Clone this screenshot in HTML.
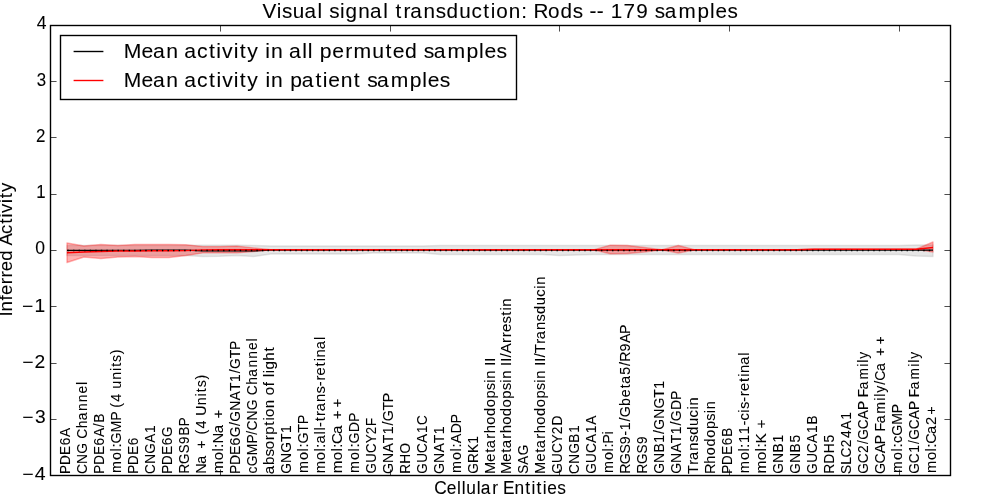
<!DOCTYPE html>
<html><head><meta charset="utf-8"><style>html,body{margin:0;padding:0;background:#fff;width:1000px;height:500px;overflow:hidden}svg{display:block;will-change:transform}text{font-family:"Liberation Sans",sans-serif}</style></head>
<body><svg width="1000" height="500" viewBox="0 0 1000 500">
<rect x="0" y="0" width="1000" height="500" fill="#fff"/>
<clipPath id="ax"><rect x="50" y="25" width="900" height="450"/></clipPath>
<g clip-path="url(#ax)">
<polygon points="66.98,245.50 83.96,245.50 100.94,245.50 117.92,245.50 134.91,245.50 151.89,245.50 168.87,245.50 185.85,245.50 202.83,245.20 219.81,245.20 236.79,245.20 253.77,245.50 270.75,246.00 287.74,246.00 304.72,246.00 321.70,246.00 338.68,246.00 355.66,246.00 372.64,246.00 389.62,246.00 406.60,246.00 423.58,246.00 440.57,245.50 457.55,245.50 474.53,245.50 491.51,245.50 508.49,245.50 525.47,245.50 542.45,245.50 559.43,245.50 576.42,245.50 593.40,245.50 610.38,245.50 627.36,245.50 644.34,245.50 661.32,245.50 678.30,245.50 695.28,245.50 712.26,245.50 729.25,245.50 746.23,245.50 763.21,245.50 780.19,245.50 797.17,245.50 814.15,245.50 831.13,245.50 848.11,245.50 865.09,245.50 882.08,245.50 899.06,245.50 916.04,245.00 933.02,245.00 933.02,256.50 916.04,256.00 899.06,254.50 882.08,254.50 865.09,254.50 848.11,254.50 831.13,254.50 814.15,254.50 797.17,254.50 780.19,254.50 763.21,254.50 746.23,254.50 729.25,254.50 712.26,254.50 695.28,254.50 678.30,254.50 661.32,254.50 644.34,254.50 627.36,254.50 610.38,254.50 593.40,254.50 576.42,255.00 559.43,255.50 542.45,254.50 525.47,254.50 508.49,254.50 491.51,254.50 474.53,254.50 457.55,254.50 440.57,254.50 423.58,253.00 406.60,253.00 389.62,253.00 372.64,253.00 355.66,254.00 338.68,254.00 321.70,254.00 304.72,254.00 287.74,254.00 270.75,254.00 253.77,256.50 236.79,255.50 219.81,256.20 202.83,256.50 185.85,255.50 168.87,255.50 151.89,255.50 134.91,255.50 117.92,255.50 100.94,255.50 83.96,255.50 66.98,255.50" fill="rgb(128,128,128)" fill-opacity="0.2" stroke="rgb(128,128,128)" stroke-opacity="0.2" stroke-width="1.39" stroke-linejoin="round"/>
<polygon points="66.98,243.00 83.96,246.00 100.94,244.50 117.92,245.50 134.91,244.50 151.89,244.50 168.87,244.50 185.85,244.80 202.83,246.60 219.81,246.60 236.79,246.10 253.77,247.90 270.75,249.80 287.74,249.80 304.72,249.80 321.70,249.80 338.68,249.80 355.66,249.80 372.64,249.80 389.62,249.80 406.60,249.80 423.58,249.80 440.57,249.80 457.55,249.80 474.53,249.80 491.51,249.80 508.49,249.80 525.47,249.80 542.45,249.80 559.43,249.80 576.42,249.80 593.40,249.80 610.38,245.20 627.36,245.50 644.34,247.50 661.32,249.80 678.30,245.50 695.28,249.80 712.26,249.80 729.25,249.80 746.23,249.80 763.21,249.80 780.19,249.80 797.17,249.80 814.15,249.20 831.13,249.20 848.11,249.20 865.09,249.20 882.08,249.20 899.06,249.20 916.04,249.20 933.02,242.00 933.02,252.00 916.04,249.20 899.06,249.20 882.08,249.20 865.09,249.20 848.11,249.20 831.13,249.20 814.15,249.20 797.17,249.80 780.19,249.80 763.21,249.80 746.23,249.80 729.25,249.80 712.26,249.80 695.28,249.80 678.30,253.00 661.32,249.80 644.34,252.00 627.36,253.50 610.38,253.80 593.40,249.80 576.42,249.80 559.43,249.80 542.45,249.80 525.47,249.80 508.49,249.80 491.51,249.80 474.53,249.80 457.55,249.80 440.57,249.80 423.58,249.80 406.60,249.80 389.62,249.80 372.64,249.80 355.66,249.80 338.68,249.80 321.70,249.80 304.72,249.80 287.74,249.80 270.75,249.80 253.77,251.50 236.79,252.90 219.81,252.90 202.83,252.90 185.85,255.50 168.87,257.50 151.89,257.50 134.91,256.50 117.92,257.00 100.94,258.50 83.96,257.00 66.98,262.50" fill="rgb(255,0,0)" fill-opacity="0.3" stroke="rgb(255,0,0)" stroke-opacity="0.3" stroke-width="1.39" stroke-linejoin="round"/>
<polyline points="66.98,250.40 83.96,250.40 100.94,250.40 117.92,250.40 134.91,250.40 151.89,250.10 168.87,250.10 185.85,250.10 202.83,250.90 219.81,250.90 236.79,250.90 253.77,250.90 270.75,250.10 287.74,250.10 304.72,250.10 321.70,250.10 338.68,250.10 355.66,250.10 372.64,250.10 389.62,250.10 406.60,250.10 423.58,250.10 440.57,250.10 457.55,250.10 474.53,250.10 491.51,250.10 508.49,250.10 525.47,250.10 542.45,250.10 559.43,250.10 576.42,250.10 593.40,250.10 610.38,250.10 627.36,250.10 644.34,250.10 661.32,250.10 678.30,250.10 695.28,250.10 712.26,250.10 729.25,250.10 746.23,250.10 763.21,250.10 780.19,250.10 797.17,250.10 814.15,250.10 831.13,250.10 848.11,250.10 865.09,250.10 882.08,250.10 899.06,250.10 916.04,250.10 933.02,250.10" fill="none" stroke="#000" stroke-width="1.39"/>
<polyline points="66.98,252.80 83.96,252.00 100.94,251.50 117.92,251.00 134.91,251.00 151.89,250.80 168.87,250.80 185.85,250.60 202.83,249.90 219.81,249.70 236.79,249.70 253.77,249.80 270.75,249.80 287.74,249.80 304.72,249.80 321.70,249.80 338.68,249.80 355.66,249.80 372.64,249.80 389.62,249.80 406.60,249.80 423.58,249.80 440.57,249.80 457.55,249.80 474.53,249.80 491.51,249.80 508.49,249.80 525.47,249.80 542.45,249.80 559.43,249.80 576.42,249.80 593.40,249.80 610.38,249.80 627.36,249.80 644.34,249.80 661.32,249.80 678.30,249.80 695.28,249.80 712.26,249.80 729.25,249.80 746.23,249.80 763.21,249.80 780.19,249.80 797.17,249.80 814.15,249.20 831.13,249.20 848.11,249.20 865.09,249.20 882.08,249.20 899.06,249.20 916.04,249.20 933.02,247.50" fill="none" stroke="#f00" stroke-width="1.39"/>
<line x1="66.98" y1="250.5" x2="933.02" y2="250.5" stroke="#000" stroke-width="1.39" stroke-dasharray="1.39 4.167" stroke-dashoffset="-0.5"/>
</g>
<rect x="50.5" y="25.5" width="900" height="450" fill="none" stroke="#000" stroke-width="1.39"/>
<path d="M51,25.5h5.56M950,25.5h-5.56M51,81.5h5.56M950,81.5h-5.56M51,137.5h5.56M950,137.5h-5.56M51,194.5h5.56M950,194.5h-5.56M51,250.5h5.56M950,250.5h-5.56M51,306.5h5.56M950,306.5h-5.56M51,363.5h5.56M950,363.5h-5.56M51,419.5h5.56M950,419.5h-5.56M51,475.5h5.56M950,475.5h-5.56M220.5,26v5.56M220.5,475v-5.56M390.5,26v5.56M390.5,475v-5.56M559.5,26v5.56M559.5,475v-5.56M729.5,26v5.56M729.5,475v-5.56M899.5,26v5.56M899.5,475v-5.56" stroke="#000" stroke-width="0.7" fill="none"/>
<rect x="60.5" y="35.5" width="456" height="64" fill="#fff" stroke="#000" stroke-width="1.39"/>
<line x1="73.6" y1="51.5" x2="103.4" y2="51.5" stroke="#000" stroke-width="1.39"/>
<line x1="73.6" y1="80.5" x2="103.4" y2="80.5" stroke="#f00" stroke-width="1.39"/>
<text transform="translate(434.75,493.90) scale(0.9814,1)" x="-0.55 12.20 22.70 27.42 32.17 42.90 46.88 58.51 64.61 69.43 81.25 92.33 98.57 103.71 109.94 114.60 124.83" y="0" font-size="17.67" fill="#000" stroke="#000" stroke-width="0.082">Cellular Entities</text>
<text transform="translate(20.97,480.20) scale(1.1030,1)" x="1.17 12.56" y="0" font-size="17.67" fill="#000" stroke="#000" stroke-width="0.073">−4</text>
<text transform="translate(20.94,423.15) scale(1.0869,1)" x="1.26 12.84" y="0" font-size="17.67" fill="#000" stroke="#000" stroke-width="0.074">−3</text>
<text transform="translate(20.84,367.50) scale(1.0912,1)" x="1.24 12.54" y="0" font-size="17.67" fill="#000" stroke="#000" stroke-width="0.073">−2</text>
<text transform="translate(20.74,312.05) scale(1.0906,1)" x="1.24 12.65" y="0" font-size="17.67" fill="#000" stroke="#000" stroke-width="0.073">−1</text>
<text transform="translate(34.84,254.40) scale(0.9945,1)" x="0.41" y="0" font-size="17.67" fill="#000" stroke="#000" stroke-width="0.080">0</text>
<text transform="translate(35.72,198.35) scale(0.9498,1)" x="0.58" y="0" font-size="17.67" fill="#000" stroke="#000" stroke-width="0.084">1</text>
<text transform="translate(35.72,141.90) scale(0.9586,1)" x="0.38" y="0" font-size="17.67" fill="#000" stroke="#000" stroke-width="0.083">2</text>
<text transform="translate(36.02,86.45) scale(0.9551,1)" x="0.66" y="0" font-size="17.67" fill="#000" stroke="#000" stroke-width="0.084">3</text>
<text transform="translate(36.24,29.40) scale(0.9946,1)" x="0.41" y="0" font-size="17.67" fill="#000" stroke="#000" stroke-width="0.080">4</text>
<text transform="translate(11.80,316.44) rotate(-90) scale(1.0534,1)" x="-0.12 4.80 15.22 20.25 30.59 37.09 43.00 52.77 62.79 67.33 78.38 87.94 93.79 98.20 107.55 112.30 118.16" y="0" font-size="17.67" fill="#000" stroke="#000" stroke-width="0.076">Inferred Activity</text>
<text transform="translate(69.98,473.80) rotate(-90) scale(0.9342,1)" x="-0.09 9.49 20.24 30.50 39.51" y="0" font-size="14.51" fill="#000" stroke="#000" stroke-width="0.075">PDE6A</text>
<text transform="translate(86.96,473.80) rotate(-90) scale(0.9523,1)" x="-0.23 10.39 21.09 32.40 36.80 47.81 56.36 66.01 75.26 84.36 93.27" y="0" font-size="14.51" fill="#000" stroke="#000" stroke-width="0.074">CNG Channel</text>
<text transform="translate(103.94,473.80) rotate(-90) scale(0.9510,1)" x="-0.18 9.23 19.79 29.89 38.73 49.01 53.64" y="0" font-size="14.51" fill="#000" stroke="#000" stroke-width="0.074">PDE6A/B</text>
<text transform="translate(120.92,473.80) rotate(-90) scale(0.9796,1)" x="0.90 14.12 22.84 26.80 31.04 42.26 54.10 62.97 67.46 73.48 82.03 86.96 96.01 104.87 109.17 114.17 122.11" y="0" font-size="14.51" fill="#000" stroke="#000" stroke-width="0.071">mol:GMP (4 units)</text>
<text transform="translate(137.91,473.80) rotate(-90) scale(0.9249,1)" x="-0.04 9.64 20.50 30.85" y="0" font-size="14.51" fill="#000" stroke="#000" stroke-width="0.076">PDE6</text>
<text transform="translate(154.89,473.80) rotate(-90) scale(0.9372,1)" x="-0.14 10.65 21.52 33.14 43.66" y="0" font-size="14.51" fill="#000" stroke="#000" stroke-width="0.075">CNGA1</text>
<text transform="translate(171.87,473.80) rotate(-90) scale(0.9269,1)" x="-0.06 9.61 20.44 30.78 39.72" y="0" font-size="14.51" fill="#000" stroke="#000" stroke-width="0.076">PDE6G</text>
<text transform="translate(188.85,473.80) rotate(-90) scale(0.9169,1)" x="0.29 10.73 22.31 32.61 41.87 51.91" y="0" font-size="14.51" fill="#000" stroke="#000" stroke-width="0.076">RGS9BP</text>
<text transform="translate(205.83,473.80) rotate(-90) scale(0.9833,1)" x="0.04 10.33 19.22 25.40 35.55 40.01 46.00 54.53 58.95 69.83 78.67 82.96 87.93 95.84" y="0" font-size="14.51" fill="#000" stroke="#000" stroke-width="0.071">Na + (4 Units)</text>
<text transform="translate(222.81,473.80) rotate(-90) scale(1.0288,1)" x="0.57 13.25 21.67 25.42 29.52 39.39 48.08 53.80" y="0" font-size="14.51" fill="#000" stroke="#000" stroke-width="0.068">mol:Na +</text>
<text transform="translate(239.79,473.80) rotate(-90) scale(0.9618,1)" x="-0.24 9.06 19.51 29.51 38.08 49.74 54.13 65.54 76.28 86.05 95.37 104.49 108.88 120.11 128.71" y="0" font-size="14.51" fill="#000" stroke="#000" stroke-width="0.073">PDE6G/GNAT1/GTP</text>
<text transform="translate(256.77,473.80) rotate(-90) scale(0.9514,1)" x="0.22 8.03 19.59 31.75 41.18 45.43 56.06 66.77 78.08 82.50 93.51 102.07 111.73 120.98 130.10 139.01" y="0" font-size="14.51" fill="#000" stroke="#000" stroke-width="0.074">cGMP/CNG Channel</text>
<text transform="translate(273.75,473.80) rotate(-90) scale(1.0449,1)" x="-0.48 8.40 16.51 23.54 32.20 37.36 46.09 50.99 54.48 62.78 71.00 75.26 83.85 88.04 92.50 96.20 99.76 108.27 117.06" y="0" font-size="14.51" fill="#000" stroke="#000" stroke-width="0.067">absorption of light</text>
<text transform="translate(290.74,473.80) rotate(-90) scale(0.9620,1)" x="-0.06 11.34 21.93 33.16 42.48" y="0" font-size="14.51" fill="#000" stroke="#000" stroke-width="0.073">GNGT1</text>
<text transform="translate(307.72,473.80) rotate(-90) scale(0.9911,1)" x="0.82 13.91 22.56 26.47 30.62 41.55 49.88" y="0" font-size="14.51" fill="#000" stroke="#000" stroke-width="0.071">mol:GTP</text>
<text transform="translate(324.70,473.80) rotate(-90) scale(1.0197,1)" x="0.63 13.40 21.88 25.67 29.60 38.60 42.39 45.93 51.42 56.79 61.37 70.40 78.74 85.86 91.38 96.52 105.34 110.35 114.15 122.10 131.10" y="0" font-size="14.51" fill="#000" stroke="#000" stroke-width="0.069">mol:all-trans-retinal</text>
<text transform="translate(341.68,473.80) rotate(-90) scale(1.0452,1)" x="0.46 12.98 21.31 24.99 28.56 38.05 46.67 52.22 63.36" y="0" font-size="14.51" fill="#000" stroke="#000" stroke-width="0.067">mol:Ca ++</text>
<text transform="translate(358.66,473.80) rotate(-90) scale(0.9814,1)" x="0.89 14.08 22.80 26.75 30.98 42.35 52.68" y="0" font-size="14.51" fill="#000" stroke="#000" stroke-width="0.071">mol:GDP</text>
<text transform="translate(375.64,473.80) rotate(-90) scale(0.9172,1)" x="0.20 12.04 22.79 33.18 43.22 52.20" y="0" font-size="14.51" fill="#000" stroke="#000" stroke-width="0.076">GUCY2F</text>
<text transform="translate(392.62,473.80) rotate(-90) scale(0.9704,1)" x="-0.11 11.20 21.85 31.53 40.78 49.83 54.15 65.29 73.81" y="0" font-size="14.51" fill="#000" stroke="#000" stroke-width="0.072">GNAT1/GTP</text>
<text transform="translate(409.60,473.80) rotate(-90) scale(0.9378,1)" x="0.16 10.61 21.61" y="0" font-size="14.51" fill="#000" stroke="#000" stroke-width="0.075">RHO</text>
<text transform="translate(426.58,473.80) rotate(-90) scale(0.9278,1)" x="0.14 11.84 22.46 33.28 43.91 52.68" y="0" font-size="14.51" fill="#000" stroke="#000" stroke-width="0.075">GUCA1C</text>
<text transform="translate(443.57,473.80) rotate(-90) scale(0.9690,1)" x="-0.10 11.22 21.89 31.58 40.84" y="0" font-size="14.51" fill="#000" stroke="#000" stroke-width="0.072">GNAT1</text>
<text transform="translate(460.55,473.80) rotate(-90) scale(0.9877,1)" x="0.84 13.97 22.64 26.56 30.91 40.76 51.03" y="0" font-size="14.51" fill="#000" stroke="#000" stroke-width="0.071">mol:ADP</text>
<text transform="translate(477.53,473.80) rotate(-90) scale(0.9424,1)" x="0.05 11.55 22.02 31.91" y="0" font-size="14.51" fill="#000" stroke="#000" stroke-width="0.074">GRK1</text>
<text transform="translate(494.51,473.80) rotate(-90) scale(1.0159,1)" x="-0.14 11.99 20.83 25.20 34.60 39.87 48.38 56.82 65.43 74.03 82.35 89.74 93.57 101.91 106.25 110.28" y="0" font-size="14.51" fill="#000" stroke="#000" stroke-width="0.069">Metarhodopsin II</text>
<text transform="translate(511.49,473.80) rotate(-90) scale(1.0328,1)" x="-0.24 11.73 20.46 24.72 33.99 39.15 47.52 55.82 64.29 72.75 80.94 88.24 91.97 100.23 104.48 108.44 112.69 116.73 126.77 132.30 137.36 145.47 153.09 158.04 161.77" y="0" font-size="14.51" fill="#000" stroke="#000" stroke-width="0.068">Metarhodopsin II/Arrestin</text>
<text transform="translate(528.47,473.80) rotate(-90) scale(0.9196,1)" x="0.03 9.91 20.11" y="0" font-size="14.51" fill="#000" stroke="#000" stroke-width="0.076">SAG</text>
<text transform="translate(545.45,473.80) rotate(-90) scale(1.0148,1)" x="-0.14 12.01 20.86 25.23 34.64 39.92 48.44 56.88 65.50 74.11 82.44 89.83 93.67 102.01 106.37 110.40 114.73 118.80 128.06 132.67 141.75 150.13 157.45 166.19 174.56 182.41 186.25" y="0" font-size="14.51" fill="#000" stroke="#000" stroke-width="0.069">Metarhodopsin II/Transducin</text>
<text transform="translate(562.43,473.80) rotate(-90) scale(0.9429,1)" x="0.05 11.56 22.02 32.14 41.93 51.32" y="0" font-size="14.51" fill="#000" stroke="#000" stroke-width="0.074">GUCY2D</text>
<text transform="translate(579.42,473.80) rotate(-90) scale(0.9295,1)" x="-0.10 10.78 21.74 33.47 44.09" y="0" font-size="14.51" fill="#000" stroke="#000" stroke-width="0.075">CNGB1</text>
<text transform="translate(596.40,473.80) rotate(-90) scale(0.9414,1)" x="0.06 11.59 22.06 32.73 43.21 52.21" y="0" font-size="14.51" fill="#000" stroke="#000" stroke-width="0.074">GUCA1A</text>
<text transform="translate(613.38,473.80) rotate(-90) scale(0.9945,1)" x="0.79 13.84 22.48 26.37 30.34 39.49" y="0" font-size="14.51" fill="#000" stroke="#000" stroke-width="0.070">mol:Pi</text>
<text transform="translate(630.36,473.80) rotate(-90) scale(0.9712,1)" x="-0.04 9.82 20.79 30.56 39.36 44.80 53.85 58.16 69.95 78.82 87.98 92.65 102.05 111.09 115.48 125.92 134.60 144.05" y="0" font-size="14.51" fill="#000" stroke="#000" stroke-width="0.072">RGS9-1/Gbeta5/R9AP</text>
<text transform="translate(647.34,473.80) rotate(-90) scale(0.9303,1)" x="0.20 10.50 21.92 32.08" y="0" font-size="14.51" fill="#000" stroke="#000" stroke-width="0.075">RGS9</text>
<text transform="translate(664.32,473.80) rotate(-90) scale(0.9640,1)" x="-0.07 11.31 22.03 32.30 41.40 45.78 57.16 67.72 78.93 88.23" y="0" font-size="14.51" fill="#000" stroke="#000" stroke-width="0.073">GNB1/GNGT1</text>
<text transform="translate(681.30,473.80) rotate(-90) scale(0.9643,1)" x="-0.07 11.30 22.02 31.76 41.06 50.16 54.53 66.10 76.60" y="0" font-size="14.51" fill="#000" stroke="#000" stroke-width="0.073">GNAT1/GDP</text>
<text transform="translate(698.28,473.80) rotate(-90) scale(1.0032,1)" x="-0.20 9.15 13.83 23.01 31.48 38.89 47.73 56.19 64.11 68.02" y="0" font-size="14.51" fill="#000" stroke="#000" stroke-width="0.070">Transducin</text>
<text transform="translate(715.26,473.80) rotate(-90) scale(0.9985,1)" x="-0.18 10.05 18.70 27.28 36.04 44.80 53.25 60.73 64.67" y="0" font-size="14.51" fill="#000" stroke="#000" stroke-width="0.070">Rhodopsin</text>
<text transform="translate(732.25,473.80) rotate(-90) scale(0.9258,1)" x="-0.05 9.63 20.47 30.81 39.92" y="0" font-size="14.51" fill="#000" stroke="#000" stroke-width="0.076">PDE6B</text>
<text transform="translate(749.23,473.80) rotate(-90) scale(1.0145,1)" x="0.66 13.49 22.00 25.81 30.37 39.08 47.60 52.46 60.31 63.86 71.01 76.55 81.73 90.58 95.61 99.45 107.44 116.47" y="0" font-size="14.51" fill="#000" stroke="#000" stroke-width="0.069">mol:11-cis-retinal</text>
<text transform="translate(766.21,473.80) rotate(-90) scale(1.0687,1)" x="0.32 12.60 20.80 24.40 28.28 37.12 42.46" y="0" font-size="14.51" fill="#000" stroke="#000" stroke-width="0.065">mol:K +</text>
<text transform="translate(783.19,473.80) rotate(-90) scale(0.9415,1)" x="0.06 11.71 22.68 33.18" y="0" font-size="14.51" fill="#000" stroke="#000" stroke-width="0.074">GNB1</text>
<text transform="translate(800.17,473.80) rotate(-90) scale(0.9395,1)" x="0.07 11.74 22.74 33.26" y="0" font-size="14.51" fill="#000" stroke="#000" stroke-width="0.075">GNB5</text>
<text transform="translate(817.15,473.80) rotate(-90) scale(0.9353,1)" x="0.09 11.70 22.24 32.98 43.52 52.59" y="0" font-size="14.51" fill="#000" stroke="#000" stroke-width="0.075">GUCA1B</text>
<text transform="translate(834.13,473.80) rotate(-90) scale(0.9523,1)" x="0.07 10.54 21.60 32.87" y="0" font-size="14.51" fill="#000" stroke="#000" stroke-width="0.074">RDH5</text>
<text transform="translate(851.11,473.80) rotate(-90) scale(0.9433,1)" x="-0.09 9.74 17.37 28.28 37.84 46.76 57.22" y="0" font-size="14.51" fill="#000" stroke="#000" stroke-width="0.074">SLC24A1</text>
<text transform="translate(868.09,473.80) rotate(-90) scale(0.9435,1)" x="0.05 11.23 22.14 31.52 36.06 47.24 57.89 67.62 76.64 81.12 89.73 99.98 113.59 117.68 122.06" y="0" font-size="14.51" fill="#000" stroke="#000" stroke-width="0.074">GC2/GCAP Family</text>
<text transform="translate(885.08,473.80) rotate(-90) scale(0.9755,1)" x="-0.14 10.68 21.00 30.41 39.30 43.47 51.81 61.67 74.98 78.93 83.10 91.33 95.40 105.48 114.41 120.67 132.60" y="0" font-size="14.51" fill="#000" stroke="#000" stroke-width="0.072">GCAP Family/Ca ++</text>
<text transform="translate(902.06,473.80) rotate(-90) scale(0.9725,1)" x="0.95 14.25 23.02 27.01 31.56 39.16 50.47 62.38" y="0" font-size="14.51" fill="#000" stroke="#000" stroke-width="0.072">mol:cGMP</text>
<text transform="translate(919.04,473.80) rotate(-90) scale(0.9428,1)" x="0.05 11.24 22.28 31.54 36.09 47.28 57.93 67.68 76.70 81.18 89.80 100.05 113.67 117.76 122.14" y="0" font-size="14.51" fill="#000" stroke="#000" stroke-width="0.074">GC1/GCAP Family</text>
<text transform="translate(936.02,473.80) rotate(-90) scale(1.0090,1)" x="0.70 13.59 22.13 25.96 29.78 39.56 48.50 58.63" y="0" font-size="14.51" fill="#000" stroke="#000" stroke-width="0.069">mol:Ca2+</text>
<text transform="translate(262.56,18.06) scale(0.9904,1)" x="-0.07 14.31 19.60 30.49 42.37 55.60 60.73 67.33 78.17 83.75 96.73 108.52 121.76 126.89 134.31 142.29 149.15 162.53 174.88 185.69 198.58 210.93 222.95 230.35 235.84 248.46 261.13 267.43 273.64 288.25 300.71 313.23 323.57 330.16 337.44 344.57 351.49 364.40 377.23 389.53 396.13 406.09 420.03 439.25 451.82 457.39 469.55" y="0" font-size="20.90" fill="#000" stroke="#000" stroke-width="0.081">Visual signal transduction: Rods -- 179 samples</text>
<text transform="translate(124.00,58.00) scale(1.0134,1)" x="-0.19 17.33 28.66 41.75 53.77 59.53 72.10 83.90 91.16 96.82 108.32 114.29 121.72 132.79 139.49 145.03 157.05 162.82 175.84 181.32 186.39 193.23 205.49 218.28 226.40 245.07 258.09 265.21 277.39 289.58 295.91 305.63 319.19 338.03 350.40 355.77 367.67" y="0" font-size="20.90" fill="#000" stroke="#000" stroke-width="0.079">Mean activity in all permuted samples</text>
<text transform="translate(124.00,87.00) scale(1.0081,1)" x="-0.14 17.45 28.84 42.00 54.06 59.88 72.51 84.36 91.65 97.37 108.91 114.91 122.39 133.50 140.25 145.83 157.89 164.80 176.31 189.88 197.17 202.57 214.96 227.95 234.80 241.19 250.96 264.61 283.53 295.95 301.36 313.32" y="0" font-size="20.90" fill="#000" stroke="#000" stroke-width="0.079">Mean activity in patient samples</text>
</svg></body></html>
